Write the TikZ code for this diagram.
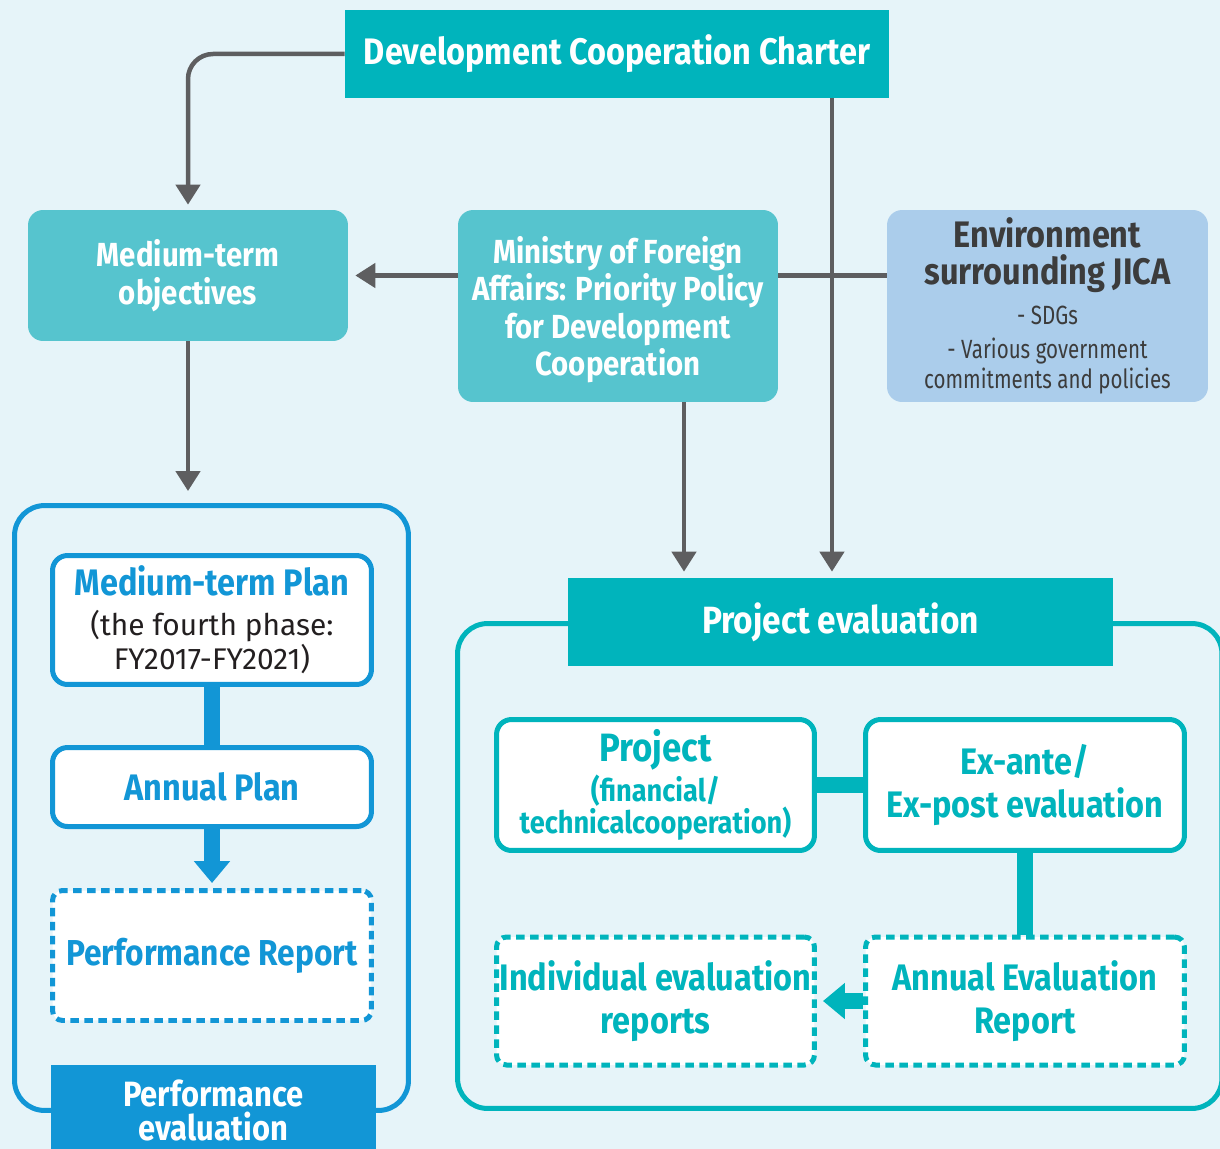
\documentclass[tikz,border=0pt]{standalone}
\usepackage{fontspec}
\setmainfont{Fira Sans}[FakeStretch=0.88]
\newfontfamily\widefont{Fira Sans}
\newfontfamily\narrowfont{Fira Sans}[FakeStretch=0.78]
\usetikzlibrary{arrows.meta}
\definecolor{bgblue}{HTML}{E6F4F9}
\definecolor{darkteal}{HTML}{00B4BC}
\definecolor{softteal}{HTML}{56C4CE}
\definecolor{envblue}{HTML}{ABCDEB}
\definecolor{evalblue}{HTML}{1296D6}
\definecolor{linegray}{HTML}{5E5E60}
\definecolor{envtext}{HTML}{3C3C3C}
\definecolor{bodytext}{HTML}{231F20}
\newcommand\tightlines{\lineskiplimit=-30pt\relax}
\newcommand\headsize{\fontsize{21}{24.3}\selectfont\bfseries\tightlines}
\newcommand\midsize{\fontsize{19}{21.4}\selectfont\bfseries\tightlines}
\tikzset{
  every node/.style={inner sep=0pt, align=center},
  headbox/.style={fill=darkteal, text=white, font=\headsize},
  softbox/.style={fill=softteal, text=white, rounded corners=0.3cm, font=\midsize},
  envbox/.style={fill=envblue, text=envtext, rounded corners=0.3cm},
  panel/.style={line width=0.1cm, rounded corners=0.6cm, fill=bgblue},
  planbox/.style={draw=evalblue, fill=white, line width=0.1cm, rounded corners=0.3cm, text=evalblue, font=\headsize},
  projbox/.style={draw=darkteal, fill=white, line width=0.1cm, rounded corners=0.3cm, text=darkteal, font=\headsize},
  dashbox/.style={dash pattern=on 0.17cm off 0.11cm, rounded corners=0.2cm},
  arr/.style={draw=linegray, line width=0.09cm, -{Triangle[width=0.48cm,length=0.4cm]}},
  plainline/.style={draw=linegray, line width=0.09cm},
  thickbar/.style={line width=0.31cm},
  thickarr/.style={line width=0.31cm, -{Triangle[width=0.7cm,length=0.44cm]}}
}

\begin{document}
\begin{tikzpicture}[x=0.02cm,y=-0.02cm]
  \fill[bgblue] (0,0) rectangle (1220,1149);
  \useasboundingbox (0,0) rectangle (1220,1149);

  \node[panel,draw=evalblue,minimum width=7.88cm,minimum height=12.1cm] (perfpanel) at (211.5,808) {};
  \node[panel,draw=darkteal,minimum width=15.29cm,minimum height=9.7cm] (projpanel) at (839.75,866) {};

  \node[headbox,minimum width=10.88cm,minimum height=1.76cm] (charter) at (617,54) {Development Cooperation Charter};
  \node[softbox,minimum width=6.4cm,minimum height=2.62cm] (objectives) at (188,275.5) {Medium-term\\objectives};
  \node[softbox,minimum width=6.4cm,minimum height=3.84cm,text depth=0pt] (ministry) at (618,306)
    {Ministry of Foreign\\Affairs: Priority Policy\\for Development\\Cooperation};
  \node[envbox,minimum width=6.42cm,minimum height=3.84cm,font={\narrowfont\fontsize{15}{17}\selectfont\tightlines}] (environment) at (1047.5,306)
    {{\rmfamily\bfseries\fontsize{21}{24}\selectfont Environment}\\[4pt]
     {\rmfamily\bfseries\fontsize{21}{24}\selectfont surrounding JICA}\\[5.8pt]
     - SDGs\\[2.4pt]
     - Various government\\
     commitments and policies};

  \node[planbox,minimum width=6.38cm,minimum height=2.58cm,font={\widefont\fontsize{17}{19.4}\selectfont\tightlines}] (mtplan) at (212,620)
    {{\rmfamily\bfseries\fontsize{21}{24}\selectfont Medium-term Plan}\\[3.4pt]
     {\color{bodytext}(the fourth phase:}\\
     {\color{bodytext}FY2017-FY2021)}};
  \node[planbox,minimum width=6.38cm,minimum height=1.58cm] (annualplan) at (212,787) {Annual Plan};
  \node[planbox,dashbox,minimum width=6.38cm,minimum height=2.6cm,font={\bfseries\fontsize{20.5}{24}\selectfont}] (perfreport) at (212,955.5) {Performance Report};
  \node[fill=evalblue,text=white,font={\bfseries\fontsize{20}{19.4}\selectfont\tightlines},minimum width=6.5cm,minimum height=1.8cm] (perfeval) at (213.5,1110) {Performance\\evaluation};

  \node[headbox,minimum width=10.9cm,minimum height=1.76cm,font={\bfseries\fontsize{21.6}{24}\selectfont}] (projeval) at (840.5,622) {Project evaluation};
  \node[projbox,minimum width=6.36cm,minimum height=2.62cm,font={\bfseries\fontsize{17.6}{18.2}\selectfont\tightlines}] (project) at (655.5,785)
    {{\fontsize{22.5}{24}\selectfont Project}\\[4.6pt]
     (financial/\\
     technicalcooperation)};
  \node[projbox,minimum width=6.38cm,minimum height=2.62cm] (exante) at (1025,785) {Ex-ante/\\Ex-post evaluation};
  \node[projbox,dashbox,minimum width=6.36cm,minimum height=2.56cm] (individual) at (655.5,1001) {Individual evaluation\\reports};
  \node[projbox,dashbox,minimum width=6.38cm,minimum height=2.56cm] (aer) at (1025,1001) {Annual Evaluation\\Report};

  \draw[arr,rounded corners=0.5cm,shorten >=0.1cm] (charter.west) -| (objectives.north);
  \draw[arr,shorten >=0.12cm] ([xshift=4.3cm]charter.south) -- ([xshift=4.3cm]charter.south |- projeval.north);
  \draw[plainline] (environment.west |- objectives.east) -- (ministry.east |- objectives.east);
  \draw[arr,shorten >=0.14cm] (ministry.west |- objectives.east) -- (objectives.east);
  \draw[arr,shorten >=0.12cm] ([xshift=1.32cm]ministry.south) -- ([xshift=1.32cm]ministry.south |- projeval.north);
  \draw[arr,shorten >=0.24cm] (objectives.south) -- (objectives.south |- perfpanel.north);

  \draw[evalblue,thickbar] (mtplan.south) -- (annualplan.north);
  \draw[evalblue,thickarr,shorten >=0.1cm] (annualplan.south) -- (perfreport.north);
  \draw[darkteal,thickbar] (project.east) -- (exante.west);
  \draw[darkteal,thickbar] (exante.south) -- (aer.north);
  \draw[darkteal,thickarr,shorten >=0.12cm] (aer.west) -- (individual.east);
\end{tikzpicture}
\end{document}
